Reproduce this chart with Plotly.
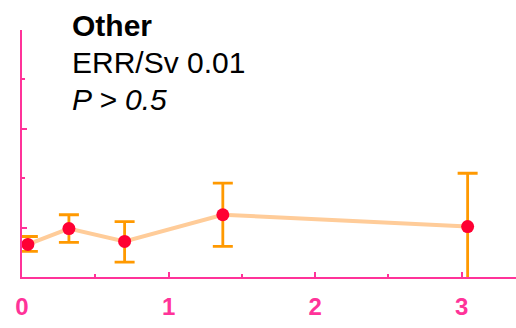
import plotly.graph_objects as go

# Dose categories (Sv) and excess relative risk estimates with 95% CI
dose = [0.04, 0.32, 0.70, 1.37, 3.04]
err = [-0.17, -0.01, -0.14, 0.13, 0.01]
ci_upper = [-0.09, 0.13, 0.06, 0.45, 0.55]
ci_lower = [-0.24, -0.15, -0.35, -0.19, -0.53]

x_ticks = [0, 1, 2, 3]
title_lines = ["<b>Other</b>", "ERR/Sv 0.01", "<i>P > 0.5</i>"]

PINK = "#FF3399"
FONT = "Liberation Sans"
W, H = 516, 328
L, R, T, B = 22, 0, 30, 50.5

plus = [u - e for u, e in zip(ci_upper, err)]
minus = [e - l for e, l in zip(err, ci_lower)]

fig = go.Figure()
fig.add_trace(go.Scatter(
    x=dose, y=err, mode="lines",
    line=dict(color="#FFCC99", width=4),
    hoverinfo="skip", cliponaxis=False,
))
fig.add_trace(go.Scatter(
    x=dose, y=err, mode="markers",
    marker=dict(color="#FF0033", size=13),
    error_y=dict(type="data", symmetric=False, array=plus, arrayminus=minus,
                 color="#FF9900", thickness=2.8, width=10),
    cliponaxis=False,
))

plot_h = H - T - B
for i, txt in enumerate(title_lines):
    py = 25 + i * 37.5
    fig.add_annotation(
        text=txt, xref="paper", yref="paper",
        x=(70 - L) / (W - L - R), y=(H - B - py) / plot_h,
        xanchor="left", yanchor="middle", showarrow=False,
        font=dict(family=FONT, size=30, color="black"),
    )

fig.update_layout(
    width=W, height=H,
    margin=dict(l=L, r=R, t=T, b=B),
    paper_bgcolor="white", plot_bgcolor="white",
    showlegend=False,
    xaxis=dict(
        range=[0, 3.37], tickvals=x_ticks, ticktext=[str(v) for v in x_ticks],
        showgrid=False, zeroline=False,
        showline=True, linecolor=PINK, linewidth=2,
        ticks="inside", tickcolor=PINK, ticklen=5, tickwidth=1.5,
        minor=dict(ticks="inside", dtick=0.5, ticklen=3, tickcolor=PINK, tickwidth=1.5),
        tickfont=dict(family=FONT, size=24, color=PINK, weight="bold"),
        ticklabelstandoff=7,
    ),
    yaxis=dict(
        range=[-0.5, 2.0], dtick=1, tick0=0,
        showgrid=False, zeroline=False, showticklabels=False,
        showline=True, linecolor=PINK, linewidth=2,
        ticks="inside", tickcolor=PINK, ticklen=5, tickwidth=1.5,
        minor=dict(ticks="inside", dtick=0.5, ticklen=3, tickcolor=PINK, tickwidth=1.5),
    ),
)

fig.write_html("out.html")
